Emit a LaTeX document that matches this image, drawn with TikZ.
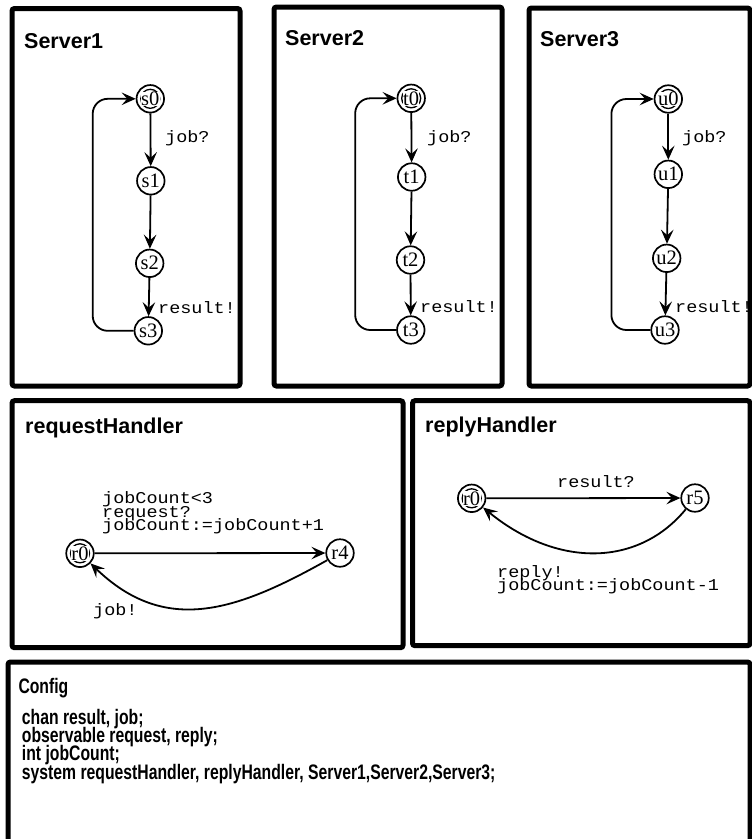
\documentclass[tikz,border=0pt]{standalone}
\usepackage{fontspec}
\setmainfont{Liberation Serif}
\newfontfamily\sansfont{Liberation Sans}
\newfontfamily\cfgfont[FakeStretch=0.75]{Liberation Sans}
\newfontfamily\monofont[FakeStretch=1.12]{Liberation Mono}
\usetikzlibrary{arrows.meta}
\begin{document}
\begin{tikzpicture}[x=1pt,y=-1pt,
  panel/.style={draw, line width=5pt, rounded corners=2.5pt},
  title/.style={anchor=base west, inner sep=0pt, font=\sansfont\bfseries\fontsize{21.5}{24}\selectfont},
  cfg/.style={anchor=base west, inner sep=0pt, font=\cfgfont\bfseries\fontsize{21}{24}\selectfont},
  lbl/.style={anchor=base west, inner sep=0pt, font=\monofont\fontsize{16.5}{13.5}\selectfont},
  state/.style={circle, draw, line width=1.7pt, minimum size=27.5pt, inner sep=0pt, font=\fontsize{20.5}{21}\selectfont},
  initstate/.style={state, path picture={\draw[line width=1.3pt] (path picture bounding box.center) circle (9.5pt);}},
  conn/.style={line width=1.8pt, -{Stealth[length=14pt,width=12.5pt,inset=5.5pt]}},
]
\clip (0,0) rectangle (752,839);
\fill[white] (0,0) rectangle (752,839);
\newcommand{\wbox}[1]{{\setlength{\fboxsep}{0.3pt}\colorbox{white}{#1}}}

% panels
\draw[panel] (12,8.5) rectangle (240,386);
\draw[panel] (274,7) rectangle (502,386);
\draw[panel] (529,8) rectangle (750,386);
\draw[panel] (12,400.7) rectangle (403,647.7);
\draw[panel] (412.5,400.7) rectangle (750,645.7);
\draw[panel] (8,662) rectangle (750,850);

% titles
\node[title] (ts1) at (24,48) {Server1};
\node[title] (ts2) at (285,45) {Server2};
\node[title] (ts3) at (540,46) {Server3};
\node[title] (trq) at (25,433) {requestHandler};
\node[title] (trp) at (425,432) {replyHandler};

% Server1
\node[initstate] (s0) at (150.3,98.8) {\wbox{s0}};
\node[state] (s1) at (150.8,180.8) {s1};
\node[state] (s2) at (149.7,263.3) {s2};
\node[state] (s3) at (148.3,330.8) {s3};
\draw[conn] (s0) -- (s1);
\draw[conn] (s1) -- (s2);
\draw[conn] (s2) -- (s3);
\draw[conn, rounded corners=15pt] (s3.west) -- ++(-41,0) |- (s0.west);
\node[lbl] (ls1a) at (165,142) {job?};
\node[lbl] (ls1b) at (158,313) {result!};

% Server2
\node[initstate] (t0) at (411.2,98.3) {\wbox{t0}};
\node[state] (t1) at (411.7,177) {t1};
\node[state] (t2) at (410.5,260) {t2};
\node[state] (t3) at (410.8,330) {t3};
\draw[conn] (t0) -- (t1);
\draw[conn] (t1) -- (t2);
\draw[conn] (t2) -- (t3);
\draw[conn, rounded corners=15pt] (t3.west) -- ++(-41,0) |- (t0.west);
\node[lbl] (ls2a) at (427,142) {job?};
\node[lbl] (ls2b) at (420,312) {result!};

% Server3
\node[initstate] (u0) at (668.3,99) {\wbox{u0}};
\node[state] (u1) at (668.3,174.3) {u1};
\node[state] (u2) at (666.7,258.3) {u2};
\node[state] (u3) at (665,330) {u3};
\draw[conn] (u0) -- (u1);
\draw[conn] (u1) -- (u2);
\draw[conn] (u2) -- (u3);
\draw[conn, rounded corners=15pt] (u3.west) -- ++(-39,0) |- (u0.west);
\node[lbl] (ls3a) at (682,142) {job?};
\node[lbl] (ls3b) at (675,312) {result!};

% requestHandler
\node[initstate] (r0) at (80,553.3) {\wbox{r0}};
\node[state] (r4) at (340,553) {r4};
\draw[conn] (r0) -- (r4);
\draw[conn] (r4) .. controls (235,612) and (165,635) .. (r0);
\node[lbl] (lrqa) at (102,503) {jobCount<3};
\node[lbl] (lrqb) at (102,517) {request?};
\node[lbl] (lrqc) at (102,530) {jobCount:=jobCount+1};
\node[lbl] (lrqd) at (93,615) {job!};

% replyHandler
\node[initstate] (q0) at (471.7,498.3) {\wbox{r0}};
\node[state] (r5) at (695,498) {r5};
\draw[conn] (q0) -- (r5);
\draw[conn] (r5) .. controls (640,565) and (560,570) .. (q0);
\node[lbl] (lrpa) at (557,487) {result?};
\node[lbl] (lrpb) at (497,577) {reply!};
\node[lbl] (lrpc) at (497,590) {jobCount:=jobCount-1};

% Config
\node[cfg] (tcfg) at (18.3,693) {Config};
\node[cfg] (c1) at (21.7,724) {chan result, job;};
\node[cfg] (c2) at (21.7,742.3) {observable request, reply;};
\node[cfg] (c3) at (21.7,760.6) {int jobCount;};
\node[cfg] (c4) at (21.7,779) {system requestHandler, replyHandler, Server1,Server2,Server3;};
\end{tikzpicture}
\end{document}
